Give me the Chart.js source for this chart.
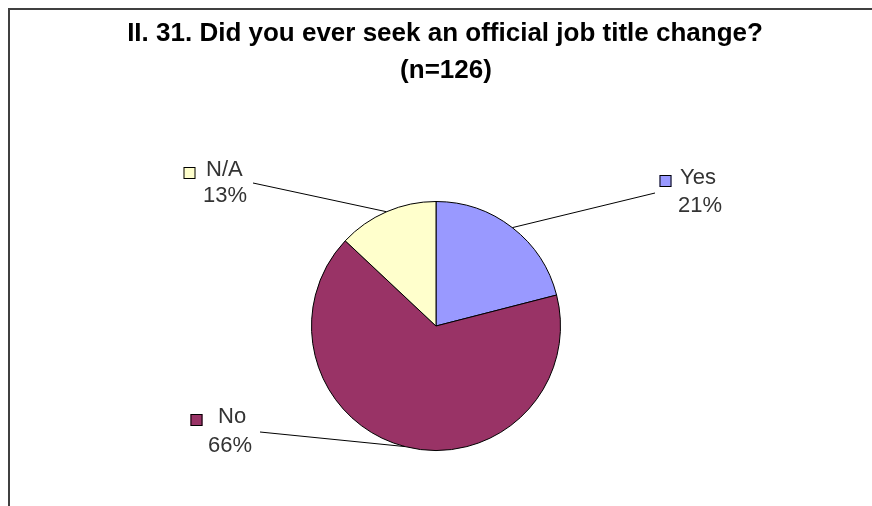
<!DOCTYPE html>
<html>
<head>
<meta charset="utf-8">
<script src="https://cdn.jsdelivr.net/npm/chart.js@4/dist/chart.umd.min.js"></script>
<style>
html,body{margin:0;padding:0;background:#fff;}
#wrap{width:872px;height:506px;position:relative;}
</style>
</head>
<body>
<div id="wrap"><canvas id="c" width="872" height="506"></canvas></div>
<script>
const categories = ["Yes", "No", "N/A"];
const percentValues = [21, 66, 13];
const sliceColors = ["#9999FF", "#993366", "#FFFFCC"];
const titleLines = ["II. 31. Did you ever seek an official job title change?", "(n=126)"];

// label layout (positions, not data)
const labelPos = {
  "Yes": {sx: 665.5, sy: 181, tx: 680, ny: 178, py: 206, pctX: 678, lx: 655, ly: 193},
  "No":  {sx: 196.5, sy: 420, tx: 218, ny: 417, py: 446, pctX: 208, lx: 260, ly: 432},
  "N/A": {sx: 189.5, sy: 173, tx: 206, ny: 170, py: 196, pctX: 203, lx: 253, ly: 183}
};

const decor = {
  id: 'decor',
  beforeDraw(chart) {
    const ctx = chart.ctx;
    ctx.save();
    ctx.fillStyle = '#fff';
    ctx.fillRect(0, 0, chart.width, chart.height);
    ctx.strokeStyle = '#404040';
    ctx.lineWidth = 2;
    ctx.beginPath();
    ctx.moveTo(9, chart.height + 5);
    ctx.lineTo(9, 9);
    ctx.lineTo(chart.width + 5, 9);
    ctx.stroke();
    ctx.fillStyle = '#000';
    ctx.font = 'bold 26px "Liberation Sans", Arial, sans-serif';
    ctx.textAlign = 'center';
    ctx.textBaseline = 'alphabetic';
    ctx.fillText(titleLines[0], 445, 41);
    ctx.fillText(titleLines[1], 446, 78);
    ctx.restore();
  },
  afterDraw(chart) {
    const ctx = chart.ctx;
    const meta = chart.getDatasetMeta(0);
    ctx.save();
    meta.data.forEach((arc, i) => {
      const name = categories[i];
      const p = labelPos[name];
      const mid = (arc.startAngle + arc.endAngle) / 2;
      const ex = arc.x + Math.cos(mid) * arc.outerRadius;
      const ey = arc.y + Math.sin(mid) * arc.outerRadius;
      ctx.strokeStyle = '#000';
      ctx.lineWidth = 1;
      ctx.beginPath();
      ctx.moveTo(p.lx, p.ly);
      ctx.lineTo(ex, ey);
      ctx.stroke();
      ctx.fillStyle = sliceColors[i];
      ctx.fillRect(p.sx - 6, p.sy - 6, 12, 12);
      ctx.strokeStyle = '#000';
      ctx.strokeRect(p.sx - 6 + 0.5, p.sy - 6 + 0.5, 11, 11);
      ctx.fillStyle = '#333';
      ctx.font = '22px "Liberation Sans", Arial, sans-serif';
      ctx.textAlign = 'left';
      ctx.textBaseline = 'middle';
      ctx.fillText(name, p.tx, p.ny);
      ctx.fillText(percentValues[i] + '%', p.pctX, p.py);
    });
    ctx.restore();
  }
};

new Chart(document.getElementById('c'), {
  type: 'pie',
  data: {
    labels: categories,
    datasets: [{
      data: percentValues,
      backgroundColor: sliceColors,
      borderColor: '#000',
      borderWidth: 1,
      hoverOffset: 0
    }]
  },
  options: {
    responsive: false,
    animation: false,
    layout: { padding: { top: 201, bottom: 55, left: 200, right: 200 } },
    plugins: { legend: { display: false }, tooltip: { enabled: false }, title: { display: false } }
  },
  plugins: [decor]
});
</script>
</body>
</html>
